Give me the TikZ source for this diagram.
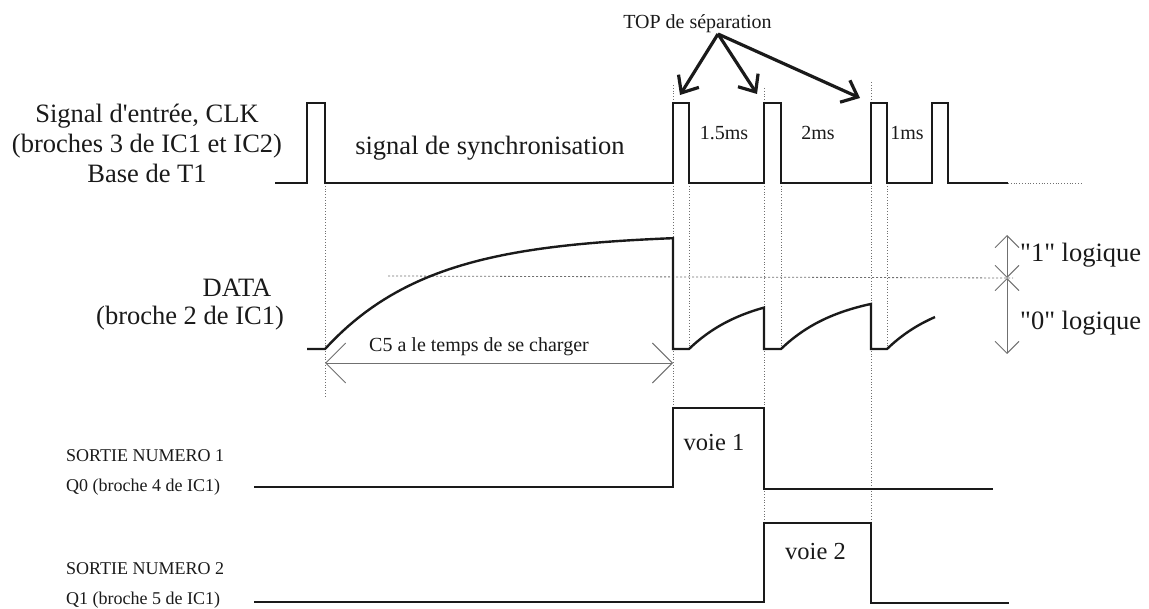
\documentclass[tikz,border=0pt]{standalone}
\usepackage{fontspec}
\setmainfont{Liberation Serif}
\usetikzlibrary{arrows.meta,positioning,calc}
\definecolor{ink}{HTML}{1A1A1A}
\definecolor{rule}{HTML}{707070}

\begin{document}
\begin{tikzpicture}[x=1pt,y=-1pt,
  wave/.style={draw=ink,line width=2.4pt,line join=miter},
  vguide/.style={draw=rule,line width=0.8pt,dotted},
  hguide/.style={draw=rule,line width=0.8pt,dash pattern=on 2pt off 2pt},
  toparrow/.style={draw=ink,line width=3.2pt,-{Straight Barb[length=14pt,width=24pt]}},
  span/.style={draw=rule,line width=0.9pt,{Straight Barb[length=#1]}-{Straight Barb[length=#1]}},
  big/.style={inner sep=0pt,text=ink,font=\fontsize{26.5}{30}\selectfont},
  mid/.style={inner sep=0pt,text=ink,font=\fontsize{24.5}{28}\selectfont},
  small/.style={inner sep=0pt,text=ink,font=\fontsize{20}{23}\selectfont},
  pin/.style={inner sep=0pt,text=ink,font=\fontsize{18}{21}\selectfont,anchor=base west}]
  \useasboundingbox (0,0) rectangle (1149,609);

  % labels on the left
  \node[big,align=center] (clklab) at (147,143)
    {Signal d\textquotesingle entrée, CLK\\(broches 3 de IC1 et IC2)\\Base de T1};
  \node[big,anchor=base] (datalab) at (237,296.7) {DATA};
  \node[big,anchor=base] (datapin) at (190,325) {(broche 2 de IC1)};
  \node[pin] (s1lab) at (66,461.7) {SORTIE NUMERO 1};
  \node[pin] (q0lab) at (66,491.7) {Q0 (broche 4 de IC1)};
  \node[pin] (s2lab) at (66,574) {SORTIE NUMERO 2};
  \node[pin] (q1lab) at (66,604) {Q1 (broche 5 de IC1)};

  % dotted guides
  \draw[vguide] (325,183) -- (325,397);
  \draw[vguide] (673,85) -- (673,408);
  \draw[vguide] (689,183) -- (689,349);
  \draw[vguide] (764,88) -- (764,523);
  \draw[vguide] (781,183) -- (781,349);
  \draw[vguide] (871,82) -- (871,523);
  \draw[vguide] (887,183) -- (887,349);
  \draw[hguide] (388,276) -- (1013,278);
  \draw[vguide] (1008,183) -- (1083,183);

  % CLK
  \draw[wave] (275,183) -- (307,183) -- (307,103) -- (325,103) -- (325,183)
    -- (673,183) -- (673,103) -- (689,103) -- (689,183)
    -- (764,183) -- (764,103) -- (781,103) -- (781,183)
    -- (871,183) -- (871,103) -- (887,103) -- (887,183)
    -- (932,183) -- (932,103) -- (948,103) -- (948,183) -- (1008,183);
  \node[big,anchor=base] (synclab) at (490,155) {signal de synchronisation};
  \node[small,anchor=base] (t15) at (724,140) {1.5ms};
  \node[small,anchor=base] (t2) at (818,140) {2ms};
  \node[small,anchor=base] (t1) at (907,140) {1ms};

  % separation tops
  \node[small,anchor=base] (toplab) at (697.5,29) {TOP de séparation};
  \coordinate (tophub) at (718,34);
  \coordinate (sep1) at (680,95);
  \coordinate (sep2) at (757,94);
  \coordinate (sep3) at (860,98);
  \draw[toparrow] (tophub) -- (sep1);
  \draw[toparrow] (tophub) -- (sep2);
  \draw[toparrow] (tophub) -- (sep3);

  % DATA
  \draw[wave] (307,349) -- (325,349)
    -- plot[domain=0:348,samples=60] ({325+\x},{349-115*(1-exp(-\x/105))})
    -- (673,349) -- (689,349)
    -- plot[domain=0:75,samples=25] ({689+\x},{349-58*(1-exp(-\x/60))})
    -- (764,349) -- (781,349)
    -- plot[domain=0:90,samples=25] ({781+\x},{349-58*(1-exp(-\x/60))})
    -- (871,349) -- (887,349)
    -- plot[domain=0:48,samples=20] ({887+\x},{349-58*(1-exp(-\x/60))});
  \coordinate (chg0) at (325,363);
  \coordinate (chg1) at (673,363);
  \draw[span=20pt] (chg0) -- (chg1);
  \node[small,anchor=base] (c5lab) at (479,352) {C5 a le temps de se charger};

  % logic levels
  \coordinate (lvhi) at (1007,235);
  \coordinate (lvmid) at (1007,278);
  \coordinate (lvlo) at (1007,354);
  \draw[span=12pt] (lvhi) -- (lvmid);
  \draw[span=12pt] (lvmid) -- (lvlo);
  \node[big,anchor=base west] (un) at (1020,261.7) {\textquotedbl 1\textquotedbl{} logique};
  \node[big,anchor=base west] (zero) at (1020,330) {\textquotedbl 0\textquotedbl{} logique};

  % outputs
  \draw[wave] (254,487) -- (673,487) -- (673,408) -- (764,408) -- (764,489) -- (993,489);
  \node[mid,anchor=base] (voie1) at (714,450) {voie 1};
  \draw[wave] (254,602) -- (764,602) -- (764,523) -- (871,523) -- (871,603) -- (1009,603);
  \node[mid,anchor=base] (voie2) at (815.5,559) {voie 2};
\end{tikzpicture}
\end{document}
